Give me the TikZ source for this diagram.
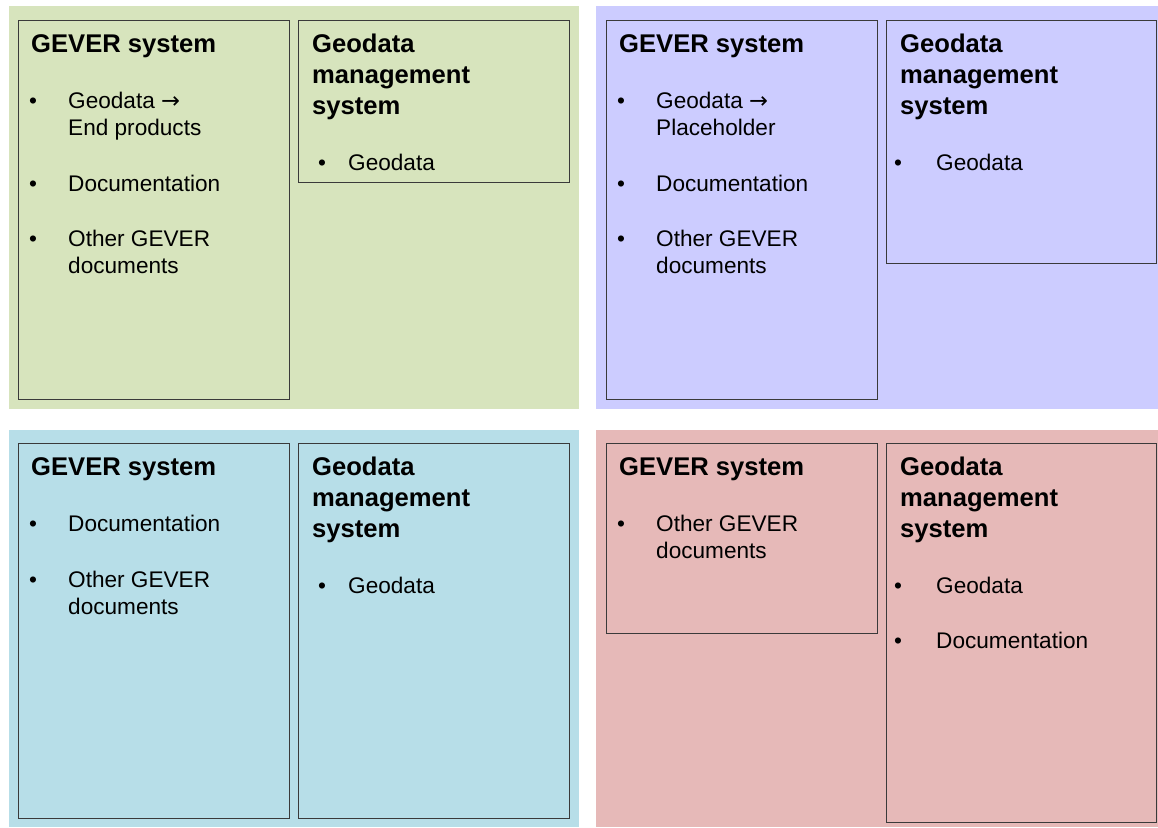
\documentclass[tikz,border=0pt]{standalone}
\usepackage{fontspec}
\setmainfont{Liberation Sans}
\newfontfamily\arrowfont{DejaVu Sans}
\usepackage{tikz}
\usetikzlibrary{calc}
\definecolor{greenbg}{HTML}{D7E4BD}
\definecolor{lilacbg}{HTML}{CCCCFF}
\definecolor{bluebg}{HTML}{B7DEE8}
\definecolor{rosebg}{HTML}{E6B9B8}
\definecolor{edge}{HTML}{3A3A3A}
\tikzset{
  box/.style={draw=edge, line width=1pt, anchor=north west, inner sep=0pt},
  head/.style={font=\fontsize{25.6}{30}\selectfont\bfseries, anchor=base west, inner sep=0pt},
  txt/.style={font=\fontsize{22.6}{27}\selectfont, anchor=base west, inner sep=0pt},
}
% bullet item: name, box, bullet offset, baseline offset, text
\newcommand\bitem[5]{%
  \node[txt] (#1dot) at ($(#2.north west)+(#3,#4)$) {\textbullet};
  \node[txt] (#1) at ($(#2.north west)+(50,#4)$) {#5};
}
% second line of an item
\newcommand\bline[4]{%
  \node[txt] (#1) at ($(#2.north west)+(50,#3)$) {#4};
}
% three-line heading of the geodata box
\newcommand\geohead[1]{%
  \node[head] (#1h1) at ($(#1.north west)+(14,32)$) {Geodata};
  \node[head] (#1h2) at ($(#1.north west)+(14,63)$) {management};
  \node[head] (#1h3) at ($(#1.north west)+(14,94)$) {system};
}
\newcommand\toarrow{{\arrowfont →}}

\begin{document}
\begin{tikzpicture}[x=1pt, y=-1pt]
  \useasboundingbox (0,0) rectangle (1158,827);
  % panels
  \fill[greenbg] (9,6) rectangle (579,409);
  \fill[lilacbg] (596,6) rectangle (1158,409);
  \fill[bluebg] (9,430) rectangle (579,827);
  \fill[rosebg] (596,430) rectangle (1158,827);

  % top left
  \node[box, minimum width=271, minimum height=379] (gevA) at (18,20) {};
  \node[box, minimum width=271, minimum height=162] (geoA) at (298,20) {};
  \node[head] (gevAh) at ($(gevA.north west)+(13,32)$) {GEVER system};
  \bitem{aone}{gevA}{11}{88}{Geodata \toarrow}
  \bline{aonel}{gevA}{115}{End products}
  \bitem{atwo}{gevA}{11}{171}{Documentation}
  \bitem{athree}{gevA}{11}{226}{Other GEVER}
  \bline{athreel}{gevA}{253}{documents}
  \geohead{geoA}
  \bitem{ageo}{geoA}{20}{150}{Geodata}

  % top right
  \node[box, minimum width=271, minimum height=379] (gevB) at (606,20) {};
  \node[box, minimum width=270, minimum height=243] (geoB) at (886,20) {};
  \node[head] (gevBh) at ($(gevB.north west)+(13,32)$) {GEVER system};
  \bitem{bone}{gevB}{11}{88}{Geodata \toarrow}
  \bline{bonel}{gevB}{115}{Placeholder}
  \bitem{btwo}{gevB}{11}{171}{Documentation}
  \bitem{bthree}{gevB}{11}{226}{Other GEVER}
  \bline{bthreel}{gevB}{253}{documents}
  \geohead{geoB}
  \bitem{bgeo}{geoB}{8}{150}{Geodata}

  % bottom left
  \node[box, minimum width=271, minimum height=375] (gevC) at (18,443) {};
  \node[box, minimum width=271, minimum height=375] (geoC) at (298,443) {};
  \node[head] (gevCh) at ($(gevC.north west)+(13,32)$) {GEVER system};
  \bitem{cone}{gevC}{11}{88}{Documentation}
  \bitem{ctwo}{gevC}{11}{144}{Other GEVER}
  \bline{ctwol}{gevC}{171}{documents}
  \geohead{geoC}
  \bitem{cgeo}{geoC}{20}{150}{Geodata}

  % bottom right
  \node[box, minimum width=271, minimum height=190] (gevD) at (606,443) {};
  \node[box, minimum width=270, minimum height=379] (geoD) at (886,443) {};
  \node[head] (gevDh) at ($(gevD.north west)+(13,32)$) {GEVER system};
  \bitem{done}{gevD}{11}{88}{Other GEVER}
  \bline{donel}{gevD}{115}{documents}
  \geohead{geoD}
  \bitem{dgeo}{geoD}{8}{150}{Geodata}
  \bitem{ddoc}{geoD}{8}{205}{Documentation}
\end{tikzpicture}
\end{document}
